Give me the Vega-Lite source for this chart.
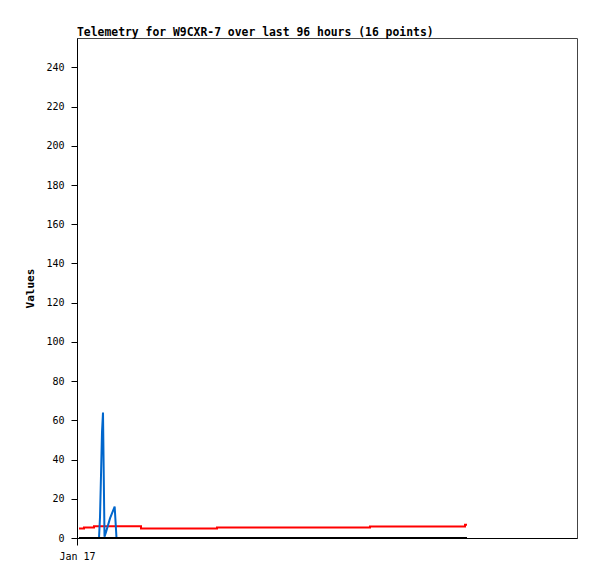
{
  "$schema": "https://vega.github.io/schema/vega-lite/v6.json",
  "width": 500,
  "height": 500,
  "autosize": {"type": "none"},
  "padding": {"left": 77, "top": 38, "right": 20, "bottom": 41},
  "background": "white",
  "title": {
    "text": "Telemetry for W9CXR-7 over last 96 hours (16 points)",
    "anchor": "start",
    "frame": "group",
    "font": "DejaVu Sans Mono",
    "fontSize": 11.4,
    "fontWeight": "bold",
    "color": "black",
    "offset": 0
  },
  "config": {
    "view": {"stroke": "#444444", "strokeWidth": 1},
    "axis": {
      "labelFont": "DejaVu Sans Mono",
      "labelFontSize": 10,
      "labelColor": "black",
      "titleFont": "DejaVu Sans Mono",
      "titleFontSize": 11,
      "titleFontWeight": "bold",
      "titleColor": "black",
      "domainColor": "black",
      "tickColor": "black",
      "grid": false
    }
  },
  "data": {
    "values": [
      {"series": "red", "time": "2024-01-17T00:30:00", "value": 4.9},
      {"series": "red", "time": "2024-01-17T01:45:00", "value": 5.4},
      {"series": "red", "time": "2024-01-17T04:15:00", "value": 6.0},
      {"series": "red", "time": "2024-01-17T16:00:00", "value": 4.8},
      {"series": "red", "time": "2024-01-18T11:00:00", "value": 5.3},
      {"series": "red", "time": "2024-01-20T01:15:00", "value": 5.9},
      {"series": "red", "time": "2024-01-21T01:00:00", "value": 6.7},
      {"series": "red", "time": "2024-01-21T01:30:00", "value": 6.7},
      {"series": "blue", "time": "2024-01-17T05:30:00", "value": 0},
      {"series": "blue", "time": "2024-01-17T05:45:00", "value": 10.5},
      {"series": "blue", "time": "2024-01-17T06:00:00", "value": 32},
      {"series": "blue", "time": "2024-01-17T06:15:00", "value": 54},
      {"series": "blue", "time": "2024-01-17T06:30:00", "value": 64},
      {"series": "blue", "time": "2024-01-17T06:52:30", "value": 0.7},
      {"series": "blue", "time": "2024-01-17T07:15:00", "value": 3},
      {"series": "blue", "time": "2024-01-17T08:15:00", "value": 10},
      {"series": "blue", "time": "2024-01-17T09:25:00", "value": 16},
      {"series": "blue", "time": "2024-01-17T09:52:30", "value": 0},
      {"series": "black", "time": "2024-01-17T00:30:00", "value": 0},
      {"series": "black", "time": "2024-01-21T01:30:00", "value": 0}
    ]
  },
  "encoding": {
    "x": {
      "field": "time",
      "type": "temporal",
      "scale": {"domain": [{"year": 2024, "month": 1, "date": 17, "hours": 0}, {"year": 2024, "month": 1, "date": 22, "hours": 5}]},
      "axis": {
        "title": null,
        "values": [{"year": 2024, "month": 1, "date": 17, "hours": 0}],
        "format": "%b %d",
        "tickSize": 7,
        "labelPadding": 6,
        "labelAlign": "center"
      }
    },
    "y": {
      "field": "value",
      "type": "quantitative",
      "scale": {"domain": [0, 255], "nice": false},
      "axis": {
        "title": "Values",
        "values": [0, 20, 40, 60, 80, 100, 120, 140, 160, 180, 200, 220, 240],
        "tickSize": 6,
        "labelPadding": 7,
        "titlePadding": 10
      }
    }
  },
  "layer": [
    {
      "transform": [{"filter": "datum.series === 'red'"}],
      "mark": {"type": "line", "interpolate": "step-after", "color": "#ff0000", "strokeWidth": 2}
    },
    {
      "transform": [{"filter": "datum.series === 'blue'"}],
      "mark": {"type": "line", "color": "#0066cc", "strokeWidth": 2}
    },
    {
      "transform": [{"filter": "datum.series === 'black'"}],
      "mark": {"type": "line", "color": "#000000", "strokeWidth": 2}
    }
  ]
}
